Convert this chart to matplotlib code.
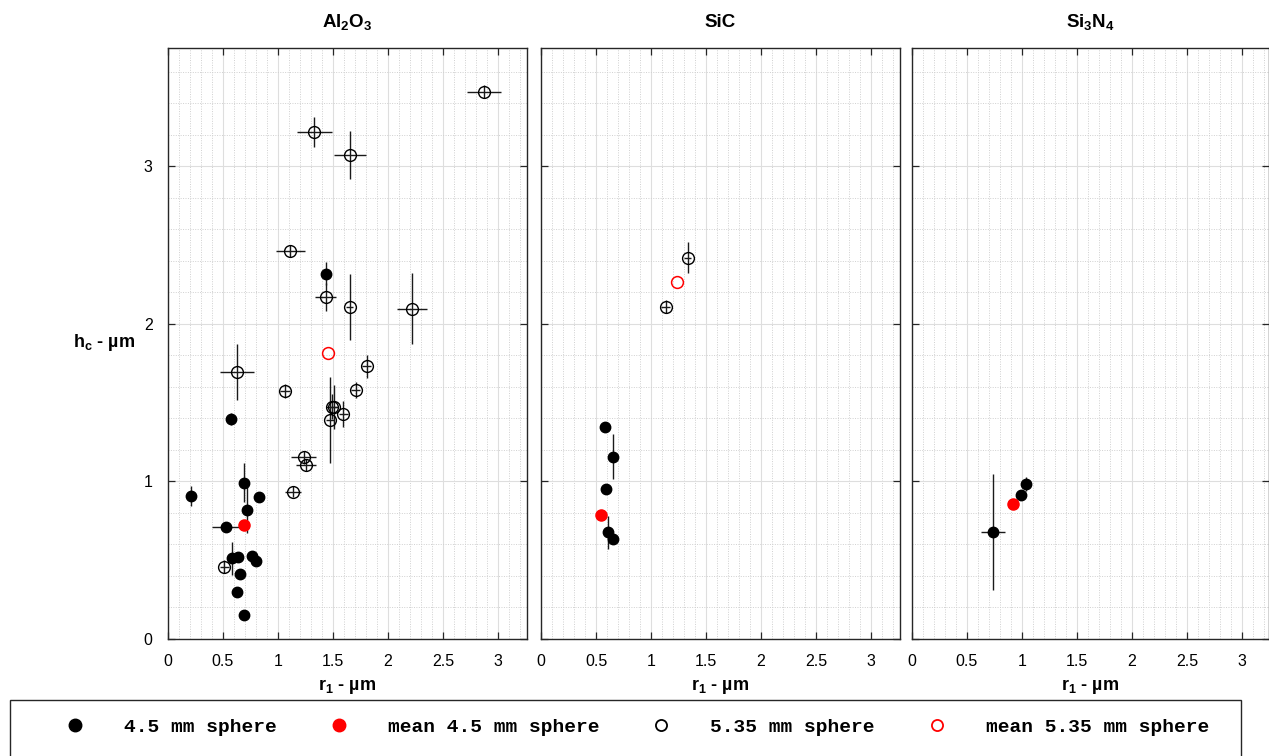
import matplotlib
matplotlib.use("Agg")
import matplotlib.pyplot as plt
from matplotlib.lines import Line2D
from matplotlib.patches import Rectangle
from matplotlib.ticker import MultipleLocator

plt.rcParams['font.family'] = ['Liberation Sans', 'DejaVu Sans']
plt.rcParams['mathtext.fontset'] = 'custom'
plt.rcParams['mathtext.rm'] = 'Liberation Sans:bold'
plt.rcParams['mathtext.bf'] = 'Liberation Sans:bold'
plt.rcParams['mathtext.it'] = 'Liberation Sans:bold'
plt.rcParams['mathtext.default'] = 'bf'

# ---------------- data ----------------
panels = ["Al$_2$O$_3$", "SiC", "Si$_3$N$_4$"]

# 4.5 mm sphere (filled)
al_s_x = [1.44, 0.573, 0.209, 0.694, 0.827, 0.721, 0.53, 0.585, 0.636, 0.764, 0.80, 0.657, 0.63, 0.688]
al_s_y = [2.32, 1.397, 0.908, 0.992, 0.90, 0.819, 0.711, 0.512, 0.523, 0.527, 0.495, 0.413, 0.30, 0.152]
al_s_xerr = [0.02, 0.02, 0.02, 0.02, 0.02, 0.04, 0.127, 0.02, 0.02, 0.02, 0.02, 0.02, 0.02, 0.04]
al_s_yerr = [0.075, 0.04, 0.065, 0.125, 0.03, 0.143, 0.02, 0.106, 0.03, 0.03, 0.03, 0.03, 0.03, 0.02]

# 5.35 mm sphere (open)
al_l_x = [2.873, 1.33, 1.655, 1.112, 1.433, 1.652, 2.218, 0.63, 1.067, 1.806, 1.706,
          1.488, 1.506, 1.473, 1.594, 1.234, 1.252, 1.134, 0.512]
al_l_y = [3.475, 3.217, 3.073, 2.463, 2.17, 2.11, 2.097, 1.695, 1.575, 1.731, 1.583,
          1.475, 1.475, 1.39, 1.429, 1.154, 1.105, 0.935, 0.459]
al_l_xerr = [0.155, 0.159, 0.143, 0.133, 0.094, 0.03, 0.133, 0.156, 0.045, 0.04, 0.04,
             0.05, 0.04, 0.04, 0.04, 0.114, 0.09, 0.073, 0.04]
al_l_yerr = [0.04, 0.095, 0.154, 0.04, 0.09, 0.21, 0.225, 0.178, 0.045, 0.074, 0.05,
             0.08, 0.14, 0.275, 0.08, 0.04, 0.04, 0.035, 0.04]

sic_s_x = [0.579, 0.655, 0.588, 0.606, 0.657]
sic_s_y = [1.346, 1.158, 0.95, 0.677, 0.633]
sic_s_xerr = [0.02, 0.02, 0.02, 0.02, 0.02]
sic_s_yerr = [0.03, 0.144, 0.03, 0.103, 0.03]

sic_l_x = [1.333, 1.133]
sic_l_y = [2.421, 2.11]
sic_l_xerr = [0.03, 0.04]
sic_l_yerr = [0.1, 0.04]

si_s_x = [0.736, 0.994, 1.034]
si_s_y = [0.68, 0.914, 0.984]
si_s_xerr = [0.11, 0.02, 0.02]
si_s_yerr = [0.366, 0.03, 0.045]

si_l_x, si_l_y, si_l_xerr, si_l_yerr = [], [], [], []

mean_s_x = [0.694, 0.543, 0.92]
mean_s_y = [0.726, 0.789, 0.86]
mean_l_x = [1.457, 1.233, None]
mean_l_y = [1.816, 2.265, None]

small = [(al_s_x, al_s_y, al_s_xerr, al_s_yerr),
         (sic_s_x, sic_s_y, sic_s_xerr, sic_s_yerr),
         (si_s_x, si_s_y, si_s_xerr, si_s_yerr)]
large = [(al_l_x, al_l_y, al_l_xerr, al_l_yerr),
         (sic_l_x, sic_l_y, sic_l_xerr, sic_l_yerr),
         (si_l_x, si_l_y, si_l_xerr, si_l_yerr)]

legend_labels = ["4.5 mm sphere", "mean 4.5 mm sphere", "5.35 mm sphere", "mean 5.35 mm sphere"]

# ---------------- figure ----------------
W, H = 1269, 756
fig = plt.figure(figsize=(W / 100, H / 100), dpi=100)

lefts = [168, 541, 912]
widths = [359, 359, 357]
bottom_px, top_px = 639, 48
spine_c = '#262626'

for i in range(3):
    ax = fig.add_axes([lefts[i] / W, (H - bottom_px) / H, widths[i] / W, (bottom_px - top_px) / H])
    ax.set_xlim(0, widths[i] / 110.0)
    ax.set_ylim(0, 3.752)
    ax.xaxis.set_major_locator(MultipleLocator(0.5))
    ax.xaxis.set_minor_locator(MultipleLocator(0.1))
    ax.yaxis.set_major_locator(MultipleLocator(1))
    ax.yaxis.set_minor_locator(MultipleLocator(0.2))
    ax.set_xticks([0, 0.5, 1, 1.5, 2, 2.5, 3])
    ax.set_xticklabels(['0', '0.5', '1', '1.5', '2', '2.5', '3'])
    ax.grid(which='major', color='#dedede', lw=0.8, ls='-')
    ax.grid(which='minor', color='#d0d0d0', lw=0.7, ls=(0, (1, 1.5)))
    ax.set_axisbelow(True)
    ax.tick_params(which='major', direction='in', top=True, right=True, length=5,
                   width=0.9, color=spine_c, labelsize=11.5, pad=11)
    ax.tick_params(which='minor', length=0, top=True, right=True)
    for s in ax.spines.values():
        s.set_color(spine_c)
        s.set_linewidth(1.0)
    if i > 0:
        ax.tick_params(labelleft=False)
    else:
        ax.set_yticks([0, 1, 2, 3])
        ax.set_ylabel("h$_c$ - µm", rotation=0, fontsize=13, fontweight='bold',
                      ha='right', va='center')
        ax.yaxis.set_label_coords(-0.092, 0.5025)

    ax.set_title(panels[i], fontsize=13.5, fontweight='bold', pad=15)
    ax.set_xlabel("r$_1$ - µm", fontsize=13, fontweight='bold')
    ax.xaxis.set_label_coords(0.5, -0.064)

    sx, sy, sxe, sye = small[i]
    if sx:
        ax.errorbar(sx, sy, xerr=sxe, yerr=sye, fmt='o', mfc='black', mec='black',
                    ms=7.5, ecolor='#1a1a1a', elinewidth=1.0, capsize=0, zorder=3)
    lx, ly, lxe, lye = large[i]
    if lx:
        ax.errorbar(lx, ly, xerr=lxe, yerr=lye, fmt='o', mfc='none', mec='black',
                    mew=1.0, ms=8.5, ecolor='#1a1a1a', elinewidth=1.0, capsize=0, zorder=3)
    ax.plot([mean_s_x[i]], [mean_s_y[i]], 'o', color='#ff0000', ms=8, zorder=4)
    if mean_l_x[i] is not None:
        ax.plot([mean_l_x[i]], [mean_l_y[i]], 'o', mfc='none', mec='#ff0000',
                mew=1.1, ms=8.5, zorder=4)

# ---------------- legend ----------------
handles = [
    Line2D([], [], ls='none', marker='o', mfc='black', mec='black', ms=9),
    Line2D([], [], ls='none', marker='o', mfc='#ff0000', mec='#ff0000', ms=9),
    Line2D([], [], ls='none', marker='o', mfc='none', mec='black', mew=1.3, ms=8),
    Line2D([], [], ls='none', marker='o', mfc='none', mec='#ff0000', mew=1.3, ms=8),
]
fig.legend(handles, legend_labels, loc='center left',
           bbox_to_anchor=(65.3 / W, (H - 727) / H), ncol=4, frameon=False,
           prop={'family': 'Liberation Mono', 'weight': 'bold', 'size': 14},
           handlelength=1.0, handletextpad=2.02, columnspacing=2.69,
           borderpad=0, borderaxespad=0)
fig.patches.append(Rectangle((10 / W, -0.05), (1241 - 10) / W, (H - 700) / H + 0.05,
                             transform=fig.transFigure, fill=False, ec=spine_c, lw=1.0))

fig.savefig("out.png", dpi=100)
